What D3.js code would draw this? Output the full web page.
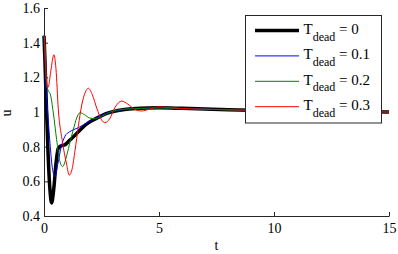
<!DOCTYPE html>
<html><head><meta charset="utf-8">
<script src="https://cdn.jsdelivr.net/npm/d3@7"></script>
</head><body style="margin:0">
<script>
const xTicks = [0, 5, 10, 15];
const yTicks = [0.4, 0.6, 0.8, 1, 1.2, 1.4, 1.6];

const t0 = [0, 0.04, 0.1, 0.18, 0.26, 0.33, 0.42, 0.52, 0.62, 0.75, 0.9, 1.1, 1.3, 1.57, 1.8, 2.14, 2.4, 2.7, 3, 3.5, 4, 4.5, 5, 6, 7, 8, 10, 12, 15];
const u0 = [1.44, 1.3, 1.05, 0.75, 0.55, 0.475, 0.55, 0.7, 0.79, 0.805, 0.81, 0.835, 0.86, 0.896, 0.925, 0.954, 0.972, 0.99, 1.002, 1.014, 1.02, 1.023, 1.024, 1.021, 1.017, 1.013, 1.007, 1.003, 1.0];

const t1 = [0, 0.04, 0.08, 0.16, 0.26, 0.36, 0.48, 0.6, 0.75, 0.91, 1.1, 1.27, 1.5, 1.7, 2.0, 2.4, 2.7, 3, 3.5, 4, 4.5, 5, 6, 7, 8, 10, 12, 15];
const u1 = [1.44, 1.3, 1.15, 1.0, 0.82, 0.68, 0.627, 0.7, 0.8, 0.86, 0.885, 0.897, 0.91, 0.925, 0.948, 0.975, 0.992, 1.004, 1.015, 1.02, 1.023, 1.024, 1.021, 1.017, 1.013, 1.007, 1.003, 1.0];

const t2 = [0, 0.05, 0.12, 0.2, 0.28, 0.4, 0.55, 0.68, 0.81, 0.95, 1.1, 1.27, 1.42, 1.57, 1.75, 2.0, 2.25, 2.55, 2.85, 3.2, 3.6, 4, 4.5, 5, 6, 7, 8, 10, 12, 15];
const u2 = [1.44, 1.3, 1.15, 1.12, 1.1, 1.0, 0.84, 0.72, 0.685, 0.73, 0.81, 0.896, 0.965, 0.996, 0.985, 0.965, 0.962, 0.978, 0.998, 1.011, 1.017, 1.02, 1.022, 1.023, 1.02, 1.016, 1.012, 1.007, 1.003, 1.0];

const t3 = [0, 0.05, 0.1, 0.15, 0.2, 0.3, 0.43, 0.52, 0.62, 0.8, 0.98, 1.1, 1.22, 1.35, 1.49, 1.64, 1.8, 1.93, 2.1, 2.3, 2.5, 2.65, 2.85, 3.1, 3.38, 3.65, 3.95, 4.25, 4.6, 5.0, 5.4, 6, 7, 8, 10, 12, 15];
const u3 = [1.44, 1.38, 1.2, 1.14, 1.15, 1.24, 1.33, 1.25, 1.02, 0.83, 0.7, 0.636, 0.67, 0.78, 0.915, 1.04, 1.115, 1.137, 1.1, 1.02, 0.955, 0.938, 0.96, 1.03, 1.063, 1.045, 1.015, 1.006, 1.017, 1.03, 1.026, 1.02, 1.016, 1.013, 1.007, 1.003, 1.0];

const seriesNames = ["0", "0.1", "0.2", "0.3"];
const seriesColors = ["#000000", "#0000ff", "#008000", "#ff0000"];
const seriesWidths = [3.5, 1, 1, 1];
const seriesT = [t0, t1, t2, t3];
const seriesU = [u0, u1, u2, u3];

const FONT = "Liberation Serif";
const W = 398, H = 254;
const m = {l: 44, r: 9, t: 8, b: 38};
const svg = d3.select("body").append("svg").attr("width", W).attr("height", H);
const x = d3.scaleLinear().domain([0, 15]).range([m.l, W - m.r]);
const y = d3.scaleLinear().domain([0.4, 1.6]).range([H - m.b, m.t]);

const xAxis = d3.axisBottom(x).tickValues(xTicks).tickFormat(d3.format("d"))
  .tickSizeInner(-4).tickSizeOuter(0).tickPadding(7);
const yAxis = d3.axisLeft(y).tickValues(yTicks).tickFormat(d => d === 1 ? "1" : d3.format(".1f")(d))
  .tickSizeInner(-4).tickSizeOuter(0).tickPadding(4);

const gx = svg.append("g").attr("transform", `translate(0,${H - m.b})`).call(xAxis);
const gy = svg.append("g").attr("transform", `translate(${m.l},0)`).call(yAxis);
[gx, gy].forEach(a => {
  a.selectAll("path,line").attr("stroke", "#262626").attr("stroke-width", 1);
  a.selectAll("text").attr("font-family", FONT).attr("font-size", 14).attr("fill", "#000");
});

svg.append("text").attr("x", x(7.5)).attr("y", 250).attr("text-anchor", "middle")
  .attr("font-family", FONT).attr("font-size", 14).text("t");
svg.append("text").attr("transform", "translate(11,113) rotate(-90)").attr("text-anchor", "middle")
  .attr("font-family", FONT).attr("font-size", 14).text("u");

const line = d3.line().x(d => x(d[0])).y(d => y(d[1])).curve(d3.curveMonotoneX);
const g = svg.append("g");
[0, 1, 2, 3].forEach(i => {
  const pts = seriesT[i].map((t, k) => [t, seriesU[i][k]]);
  g.append("path").datum(pts).attr("d", line)
    .attr("fill", "none").attr("stroke", seriesColors[i])
    .attr("stroke-width", seriesWidths[i]);
});

// legend
const lg = svg.append("g");
lg.append("rect").attr("x", 245.5).attr("y", 15.5).attr("width", 136).attr("height", 107.5)
  .attr("fill", "#fff").attr("stroke", "#262626").attr("stroke-width", 1);
seriesNames.forEach((nm, i) => {
  const yy = 30.5 + i * 25.4;
  lg.append("line").attr("x1", 255).attr("x2", 299).attr("y1", yy).attr("y2", yy)
    .attr("stroke", seriesColors[i]).attr("stroke-width", seriesWidths[i]);
  const tx = lg.append("text").attr("x", 303.5).attr("y", yy + 3.5)
    .attr("font-family", FONT).attr("font-size", 15).attr("fill", "#000");
  tx.append("tspan").text("T");
  tx.append("tspan").attr("dy", 6.5).attr("font-size", 12).text("dead");
  tx.append("tspan").attr("dy", -6.5).text(" = " + nm);
});
</script>
</body></html>
